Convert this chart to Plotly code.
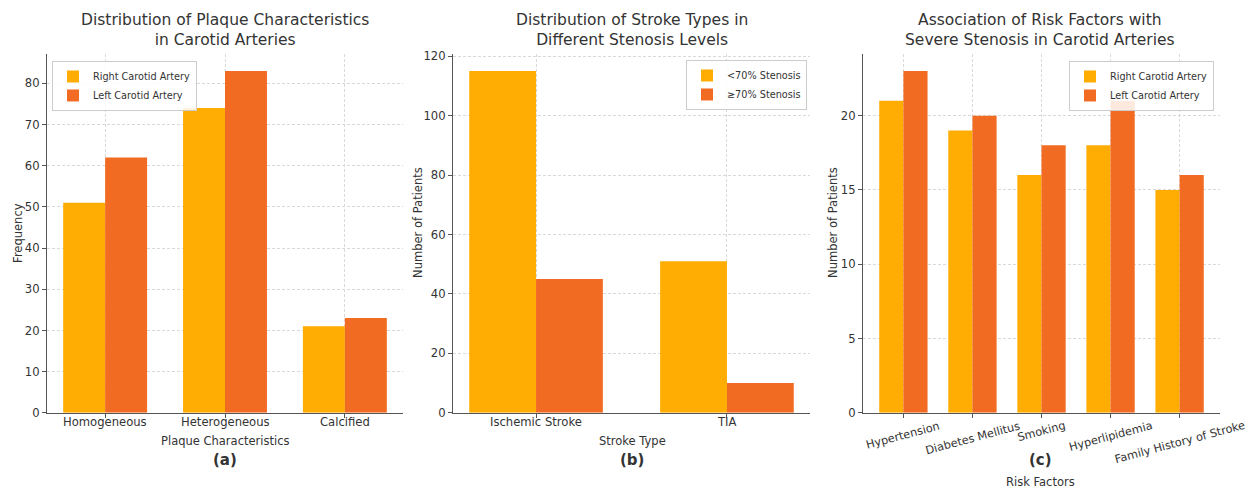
import plotly.graph_objects as go

# ---------------- data ----------------
plaque_types = ["Homogeneous", "Heterogeneous", "Calcified"]
plaque_right = [51, 74, 21]
plaque_left = [62, 83, 23]

stroke_types = ["Ischemic Stroke", "TIA"]
stroke_lt70 = [115, 51]
stroke_ge70 = [45, 10]

risk_factors = ["Hypertension", "Diabetes Mellitus", "Smoking", "Hyperlipidemia", "Family History of Stroke"]
risk_right = [21, 19, 16, 18, 15]
risk_left = [23, 20, 18, 21, 16]

C1 = "#FFAD02"
C2 = "#F26B22"
TXT = "#333333"
FONT = "DejaVu Sans"
W, H = 1251, 491

def px(x):
    return x / W

def py(y):
    # vertical pixel position (from top) -> paper fraction
    yy = (y - 4) / 0.976
    return 1 - yy / H

fig = go.Figure()

panels = [
    dict(xa="x", ya="y", leg="legend", cats=plaque_types, s1=plaque_right, s2=plaque_left,
         n1="Right Carotid Artery", n2="Left Carotid Artery"),
    dict(xa="x2", ya="y2", leg="legend2", cats=stroke_types, s1=stroke_lt70, s2=stroke_ge70,
         n1="<70% Stenosis", n2="≥70% Stenosis"),
    dict(xa="x3", ya="y3", leg="legend3", cats=risk_factors, s1=risk_right, s2=risk_left,
         n1="Right Carotid Artery", n2="Left Carotid Artery"),
]
for p in panels:
    xs = list(range(len(p["cats"])))
    fig.add_trace(go.Bar(x=xs, y=p["s1"], name=p["n1"], marker=dict(color=C1, line=dict(width=0)),
                         xaxis=p["xa"], yaxis=p["ya"], legend=p["leg"]))
    fig.add_trace(go.Bar(x=xs, y=p["s2"], name=p["n2"], marker=dict(color=C2, line=dict(width=0)),
                         xaxis=p["xa"], yaxis=p["ya"], legend=p["leg"]))

ydom = [py(412), py(53)]
xdoms = [[px(47), px(403)], [px(453), px(810)], [px(863), px(1220)]]
xranges = [[-0.485, 2.485], [-0.435, 1.435], [-0.585, 4.585]]
yranges = [[0, 87.15], [0, 120.75], [0, 24.15]]
ydticks = [10, 20, 5]

axis_common = dict(showline=True, linecolor="#555555", linewidth=1.2, ticks="outside", ticklen=4,
                   tickcolor="#555555", tickfont=dict(family=FONT, size=11.6, color=TXT),
                   showgrid=True, gridcolor="#d9d9d9", griddash="3px,2px", gridwidth=0.8,
                   zeroline=False, mirror=False)

layout = dict(
    width=W, height=H, margin=dict(l=0, r=0, t=0, b=0),
    paper_bgcolor="white", plot_bgcolor="white",
    barmode="group", bargap=0.3, bargroupgap=0,
    font=dict(family=FONT, color=TXT),
)
for i, (cats, dom, xr, yr, dt) in enumerate(zip([plaque_types, stroke_types, risk_factors],
                                                xdoms, xranges, yranges, ydticks)):
    sfx = "" if i == 0 else str(i + 1)
    xa = dict(axis_common, domain=dom, range=xr, tickvals=list(range(len(cats))), ticktext=cats,
              anchor="y" + sfx, showticklabels=False)
    ya = dict(axis_common, domain=ydom, range=yr, dtick=dt, tick0=0, anchor="x" + sfx)
    layout["xaxis" + sfx] = xa
    layout["yaxis" + sfx] = ya

leg_common = dict(bgcolor="rgba(255,255,255,0.85)", bordercolor="#cccccc", borderwidth=1,
                  font=dict(family=FONT, size=9.7, color=TXT), yanchor="top", tracegroupgap=0)
layout["legend"] = dict(leg_common, x=px(52), xanchor="left", y=py(60))
layout["legend2"] = dict(leg_common, x=px(807), xanchor="right", y=py(59))
layout["legend3"] = dict(leg_common, x=px(1214), xanchor="right", y=py(60))

fig.update_layout(**layout)

ann = []
titles = ["Distribution of Plaque Characteristics<br>in Carotid Arteries",
          "Distribution of Stroke Types in<br>Different Stenosis Levels",
          "Association of Risk Factors with<br>Severe Stenosis in Carotid Arteries"]
centers = [225, 632, 1040]
for t, cx in zip(titles, centers):
    ann.append(dict(text=t, x=px(cx), y=py(50), xref="paper", yref="paper", xanchor="center",
                    yanchor="bottom", showarrow=False, font=dict(family=FONT, size=15.5, color=TXT)))
for lab, cx in zip(["(a)", "(b)", "(c)"], centers):
    ann.append(dict(text="<b>" + lab + "</b>", x=px(cx), y=py(459), xref="paper", yref="paper",
                    xanchor="center", yanchor="middle", showarrow=False,
                    font=dict(family=FONT, size=15, color=TXT)))
# x axis titles
for lab, cx, cy in [("Plaque Characteristics", 225, 440), ("Stroke Type", 632, 440), ("Risk Factors", 1040, 481)]:
    ann.append(dict(text=lab, x=px(cx), y=py(cy), xref="paper", yref="paper", xanchor="center",
                    yanchor="middle", showarrow=False, font=dict(family=FONT, size=11.5, color=TXT)))
# y axis titles
for lab, cx, cy in [("Frequency", 18, 232), ("Number of Patients", 418, 222), ("Number of Patients", 833, 222)]:
    ann.append(dict(text=lab, x=px(cx), y=py(cy), xref="paper", yref="paper", xanchor="center",
                    yanchor="middle", textangle=-90, showarrow=False,
                    font=dict(family=FONT, size=11.5, color=TXT)))
# category labels for panels (a) and (b)
for cats, xr in [(plaque_types, "x"), (stroke_types, "x2")]:
    for i, lab in enumerate(cats):
        ann.append(dict(text=lab, x=i, y=py(421), xref=xr, yref="paper", xanchor="center",
                        yanchor="middle", showarrow=False,
                        font=dict(family=FONT, size=11.6, color=TXT)))
# rotated category labels for panel (c)
for i, lab in enumerate(risk_factors):
    ann.append(dict(text=lab, x=i, y=py(416), xref="x3", yref="paper", xanchor="center",
                    yanchor="top", textangle=-15, showarrow=False,
                    font=dict(family=FONT, size=11.3, color=TXT)))
fig.update_layout(annotations=ann)

post = (
    "var d=document.documentElement;d.style.margin='0';d.style.padding='0';d.style.overflow='hidden';"
    "document.body.style.margin='0';document.body.style.padding='0';"
    "document.body.style.overflow='hidden';"
)
fig.write_html("out.html", config={"displayModeBar": False}, post_script=post)
